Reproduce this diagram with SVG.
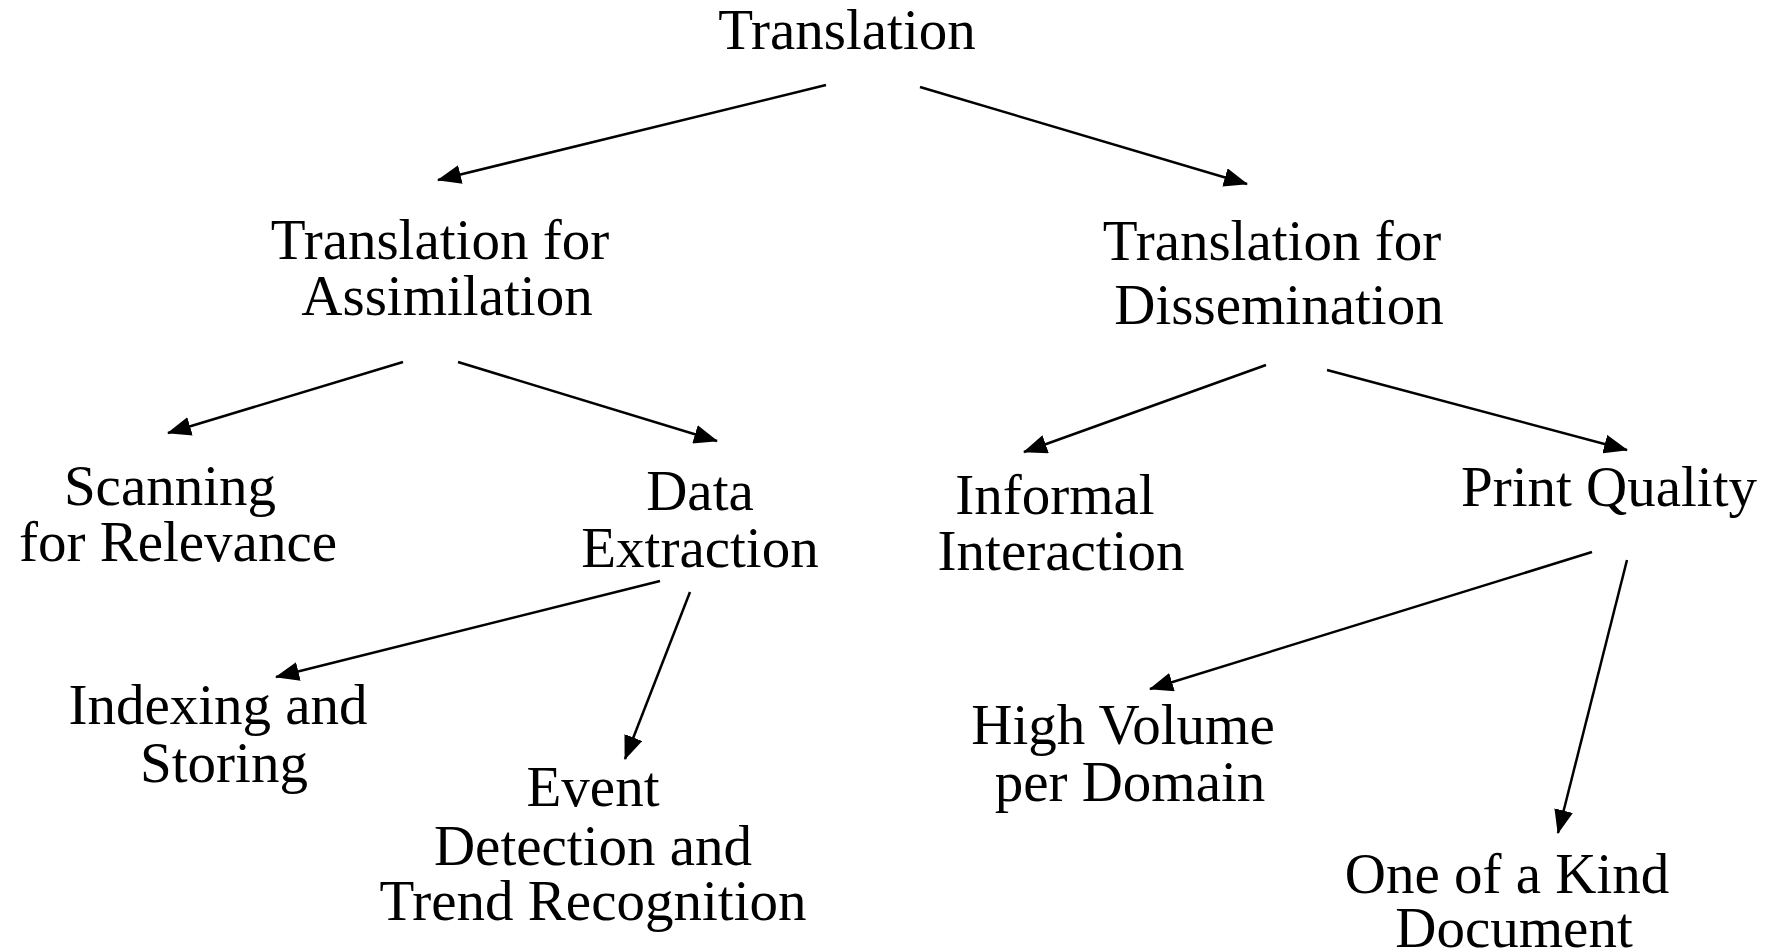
<svg xmlns="http://www.w3.org/2000/svg" width="1782" height="952" viewBox="0 0 1782 952">
<style>
text{font-family:"Liberation Serif","Times New Roman",serif;font-size:57px;fill:#000;text-anchor:middle}
.c line{stroke:#000;stroke-width:2.5;fill:none}
</style>
<defs>
<marker id="ah" viewBox="0 0 24 19" refX="23" refY="9.5" markerUnits="userSpaceOnUse" markerWidth="24" markerHeight="19" orient="auto">
<path d="M0,0 L24,9.5 L0,19 z" fill="#000"/>
</marker>
</defs>
<rect width="1782" height="952" fill="#fff"/>
<g class="c" id="connectors">
<line x1="826" y1="85" x2="438" y2="180" marker-end="url(#ah)"/>
<line x1="920" y1="87" x2="1247" y2="184" marker-end="url(#ah)"/>
<line x1="403" y1="362" x2="168" y2="433" marker-end="url(#ah)"/>
<line x1="458" y1="362" x2="717" y2="441" marker-end="url(#ah)"/>
<line x1="1266" y1="365" x2="1024" y2="452" marker-end="url(#ah)"/>
<line x1="1327" y1="370" x2="1627" y2="450" marker-end="url(#ah)"/>
<line x1="660" y1="581" x2="276" y2="677" marker-end="url(#ah)"/>
<line x1="690" y1="592" x2="625" y2="759" marker-end="url(#ah)"/>
<line x1="1592" y1="552" x2="1150" y2="689" marker-end="url(#ah)"/>
<line x1="1627" y1="560" x2="1558" y2="833" marker-end="url(#ah)"/>
</g>
<g id="n-translation"><text x="847" y="49">Translation</text></g>
<g id="n-assimilation"><text x="440" y="259">Translation for</text><text x="447" y="315">Assimilation</text></g>
<g id="n-dissemination"><text x="1272" y="260">Translation for</text><text x="1279" y="324">Dissemination</text></g>
<g id="n-scanning"><text x="170" y="505">Scanning</text><text x="178" y="561">for Relevance</text></g>
<g id="n-data"><text x="700" y="510">Data</text><text x="700" y="567">Extraction</text></g>
<g id="n-informal"><text x="1055" y="514">Informal</text><text x="1061" y="570">Interaction</text></g>
<g id="n-print"><text x="1609" y="506">Print Quality</text></g>
<g id="n-indexing"><text x="218" y="724">Indexing and</text><text x="224" y="782">Storing</text></g>
<g id="n-event"><text x="593" y="806">Event</text><text x="593" y="865">Detection and</text><text x="593" y="920">Trend Recognition</text></g>
<g id="n-highvolume"><text x="1123" y="744">High Volume</text><text x="1130" y="801">per Domain</text></g>
<g id="n-oneofakind"><text x="1507" y="893">One of a Kind</text><text x="1514" y="947">Document</text></g>
</svg>
